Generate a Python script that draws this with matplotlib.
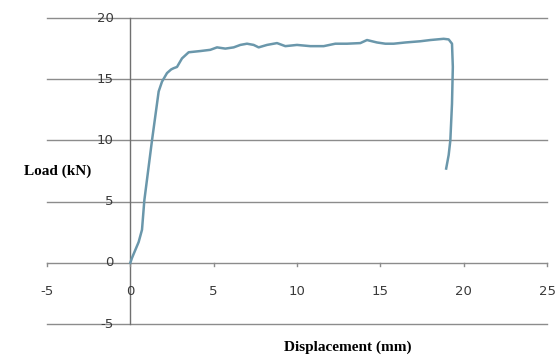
import matplotlib
matplotlib.use("Agg")
import matplotlib.pyplot as plt

displacement = [0.0, 0.1, 0.3, 0.5, 0.7, 0.84, 1.0, 1.3, 1.7, 1.9, 2.2, 2.45, 2.6, 2.8, 3.1, 3.5, 4.2, 4.8,
                5.2, 5.7, 6.2, 6.6, 7.0, 7.4, 7.7, 8.2, 8.8, 9.3, 10.0, 10.8, 11.6, 12.3, 13.0, 13.8,
                14.2, 14.8, 15.3, 15.8, 16.5, 17.4, 18.0, 18.8, 19.1, 19.3, 19.35, 19.3, 19.2, 19.1, 18.95]
load = [0.0, 0.4, 1.05, 1.7, 2.7, 5.1, 6.8, 10.0, 14.0, 14.8, 15.5, 15.8, 15.9, 16.0, 16.7, 17.2, 17.3, 17.4,
        17.6, 17.5, 17.6, 17.8, 17.9, 17.8, 17.6, 17.8, 17.95, 17.7, 17.8, 17.7, 17.7, 17.9, 17.9, 17.95,
        18.2, 18.0, 17.9, 17.9, 18.0, 18.1, 18.2, 18.3, 18.25, 17.9, 16.0, 13.0, 10.0, 8.8, 7.7]

x_ticks = [-5, 0, 5, 10, 15, 20, 25]
y_ticks = [-5, 0, 5, 10, 15, 20]

fig = plt.figure(figsize=(5.6, 3.59), dpi=100)
ax = fig.add_axes([47/560, 35/359, 500/560, 306/359])
ax.set_xlim(-5, 25)
ax.set_ylim(-5, 20)
ax.axis("off")

grid_c = "#8c8c8c"
for y in y_ticks:
    ax.plot([-5, 25], [y, y], color=grid_c, lw=1.0, zorder=1, clip_on=False)
ax.plot([0, 0], [-5, 20], color="#707070", lw=1.0, zorder=1, clip_on=False)

# x tick marks and labels along the y=0 line
for t in x_ticks:
    ax.plot([t, t], [0, -0.25], color=grid_c, lw=1.0, zorder=1, clip_on=False)
    ax.text(t, -2.35, str(t), ha="center", va="center", fontsize=9.5, color="#3a3a3a",
            family="DejaVu Sans", zorder=3)
for y in y_ticks:
    ax.text(-1.0, y, str(y), ha="right", va="center", fontsize=9.5, color="#3a3a3a",
            family="DejaVu Sans", zorder=3)

ax.plot(displacement, load, color="#6a97ab", lw=1.8, zorder=4)

fig.text(58/560, 1 - 171/359, "Load (kN)", ha="center", va="center", fontsize=11,
         fontweight="bold", family="Liberation Serif")
fig.text(348/560, 1 - 347/359, "Displacement (mm)", ha="center", va="center", fontsize=11,
         fontweight="bold", family="Liberation Serif")

fig.savefig("out.png", dpi=100, facecolor="white")
